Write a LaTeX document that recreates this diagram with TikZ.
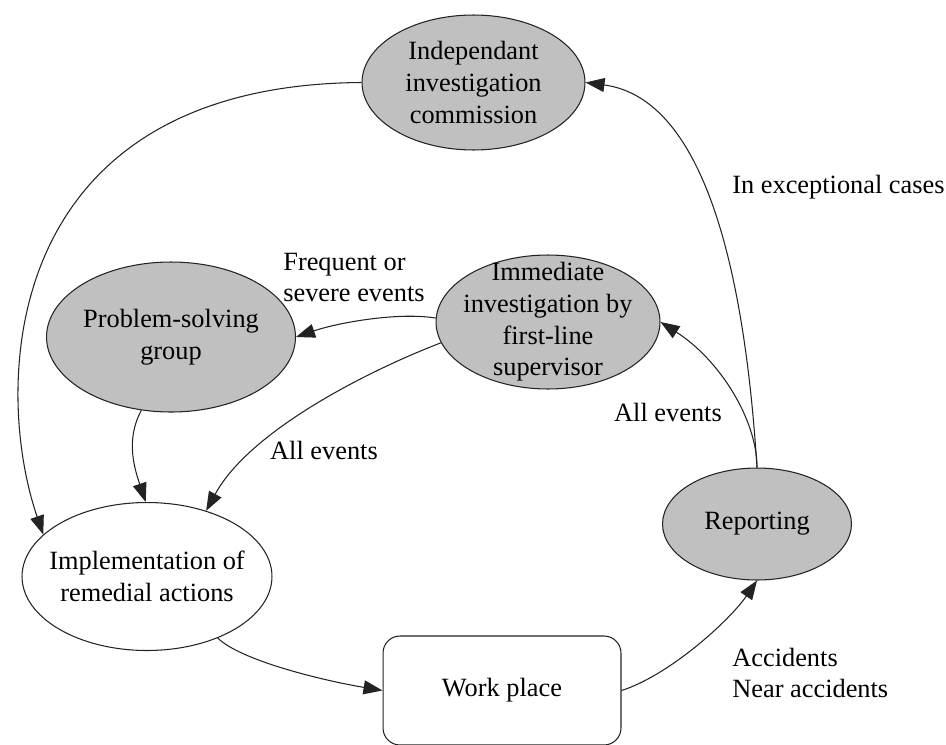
\documentclass[tikz,border=0pt]{standalone}
\usepackage{fontspec}
\setmainfont{Liberation Serif}
\usetikzlibrary{shapes.geometric,arrows.meta}
\definecolor{gfill}{RGB}{192,192,192}
\definecolor{lcol}{RGB}{35,35,35}
\begin{document}
\begin{tikzpicture}[x=0.02cm,y=-0.02cm,
  every node/.style={font=\fontsize{15}{18}\selectfont, text=black},
  ell/.style={ellipse, draw=lcol, line width=0.6pt, inner sep=0pt},
  grayell/.style={ell, fill=gfill},
  txt/.style={align=center, inner sep=0pt},
  lbl/.style={align=left, inner sep=0pt},
  conn/.style={draw=lcol, line width=0.6pt, -{Triangle[length=0.38cm,width=0.28cm]}},
]
\useasboundingbox (0,0) rectangle (946,744);

% nodes
\node[grayell, minimum width=4.46cm, minimum height=2.7cm] (com) at (473.5,82.5) {};
\node[txt] (comt) at (com.center) {Independant\\investigation\\commission};

\node[grayell, minimum width=4.98cm, minimum height=3.0cm] (psg) at (171,337) {};
\node[txt] (psgt) at (psg.center) {Problem-solving\\group};

\node[grayell, minimum width=4.48cm, minimum height=2.68cm] (imm) at (548,322) {};
\node[txt] (immt) at (imm.center) {Immediate\\investigation by\\first-line\\supervisor};

\node[grayell, minimum width=3.78cm, minimum height=2.24cm] (rep) at (757,524) {};
\node[txt] (rept) at (rep.center) {Reporting};

\node[ell, fill=white, minimum width=5.0cm, minimum height=2.96cm] (imp) at (147,576.5) {};
\node[txt] (impt) at (imp.center) {Implementation of\\remedial actions};

\node[draw=lcol, line width=0.6pt, rounded corners=0.34cm, minimum width=4.76cm, minimum height=2.18cm, inner sep=0pt] (wp) at (502,690.5) {Work place};

% connectors
\draw[conn] (com.180) .. controls (0,85) and (-8,385) .. (imp.158);
\draw[conn] (psg.-112) .. controls (125,440) and (135,470) .. (imp.91);
\draw[conn] (imm.-169) .. controls (370,370) and (250,430) .. (imp.48);
\draw[conn] (imm.178) .. controls (400,312) and (340,322) .. (psg.0);
\draw[conn] (rep.90) .. controls (757,420) and (720,360) .. (imm.0);
\draw[conn] (rep.90) .. controls (740,200) and (680,95) .. (com.0);
\draw[conn] (imp.-41) .. controls (240,660) and (320,680) .. (wp.west);
\draw[conn] (wp.east) .. controls (670,675) and (730,620) .. (rep.-90);

% labels
\node[lbl, anchor=west] (l1) at (732,187) {In exceptional cases};
\node[lbl, anchor=west] (l2) at (283,277.5) {Frequent or\\severe events};
\node[lbl] (l3) at (668,412) {All events};
\node[lbl] (l4) at (324,450) {All events};
\node[lbl, anchor=west] (l5) at (732,673) {Accidents\\Near accidents};
\end{tikzpicture}
\end{document}
